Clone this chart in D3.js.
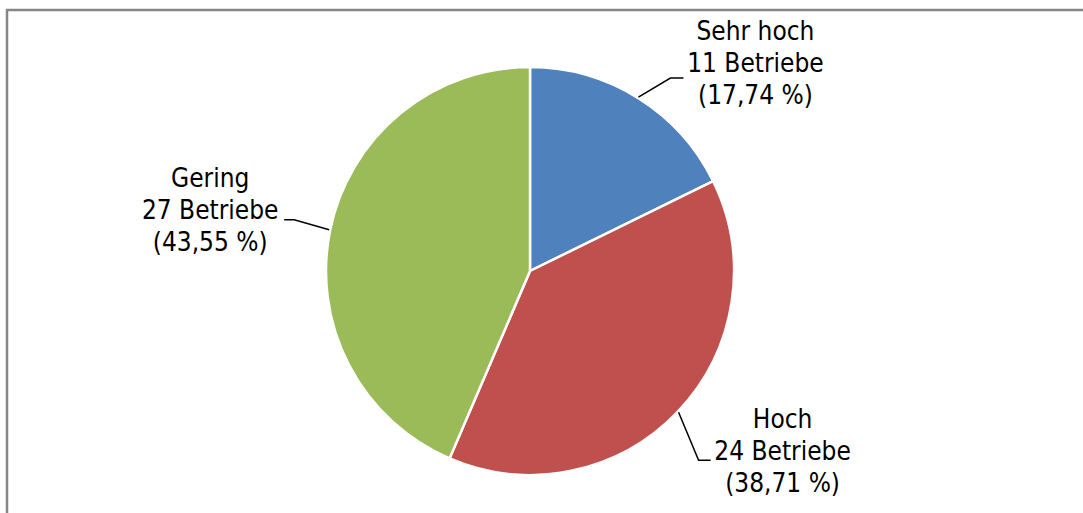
<!DOCTYPE html>
<meta charset="utf-8">
<style>
body { margin: 0; background: #fff; }
.lbl text {
  font-family: "DejaVu Sans Condensed", "DejaVu Sans", sans-serif;
  font-stretch: condensed;
  font-size: 26px;
  fill: #000;
}
</style>
<body>
<script src="https://d3js.org/d3.v7.min.js"></script>
<script>

let width = 1083;
let height = 513;

// chart data
let categories = ["Sehr hoch", "Hoch", "Gering"];
let counts = [11, 24, 27];
let percentLabels = ["17,74 %", "38,71 %", "43,55 %"];
let colors = ["#4F81BD", "#C0504D", "#9BBB59"];

let svg = d3.select("body").append("svg")
    .attr("width", width)
    .attr("height", height);

// outer frame (right and bottom edges run off the page)
svg.append("rect")
    .attr("x", 7).attr("y", 10)
    .attr("width", 1200).attr("height", 600)
    .attr("fill", "none")
    .attr("stroke", "#868686")
    .attr("stroke-width", 2.5);

let cx = 530, cy = 271, r = 204;

let pie = d3.pie().sort(null).value(d => d);
let arcs = pie(counts);
let arc = d3.arc().innerRadius(0).outerRadius(r);

let g = svg.append("g").attr("transform", `translate(${cx},${cy})`);

g.selectAll("path.slice")
  .data(arcs)
  .enter().append("path")
    .attr("class", "slice")
    .attr("d", arc)
    .attr("fill", (d, i) => colors[i])
    .attr("stroke", "#fff")
    .attr("stroke-width", 2.5);

// label layout: elbow offset from the edge point, horizontal tail, text centre
let labelLayout = [
  {elbow: [32, -19], tail: 13, center: 72, dy: -6},
  {elbow: [20, 48], tail: 12, center: 72, dy: 0},
  {elbow: [-35, -10], tail: -10, center: -74, dy: -1}
];

let lineH = 32;

let labels = svg.append("g").attr("class", "lbl");

arcs.forEach(function(a, i) {
  let ang = (a.startAngle + a.endAngle) / 2;
  let ex = cx + Math.sin(ang) * (r + 1);
  let ey = cy - Math.cos(ang) * (r + 1);
  let L = labelLayout[i];
  let bx = ex + L.elbow[0], by = ey + L.elbow[1];
  let tx = bx + L.tail;

  labels.append("path")
    .attr("d", `M${ex},${ey}L${bx},${by}L${tx},${by}`)
    .attr("fill", "none")
    .attr("stroke", "#000")
    .attr("stroke-width", 1.5);

  let midX = tx + L.center;
  let lines = [categories[i], counts[i] + " Betriebe", "(" + percentLabels[i] + ")"];
  let t = labels.append("text")
    .attr("text-anchor", "middle");
  lines.forEach(function(s, k) {
    t.append("tspan")
      .attr("x", midX)
      .attr("y", by + (k - 1) * lineH + L.dy)
      .text(s);
  });
});

</script>
